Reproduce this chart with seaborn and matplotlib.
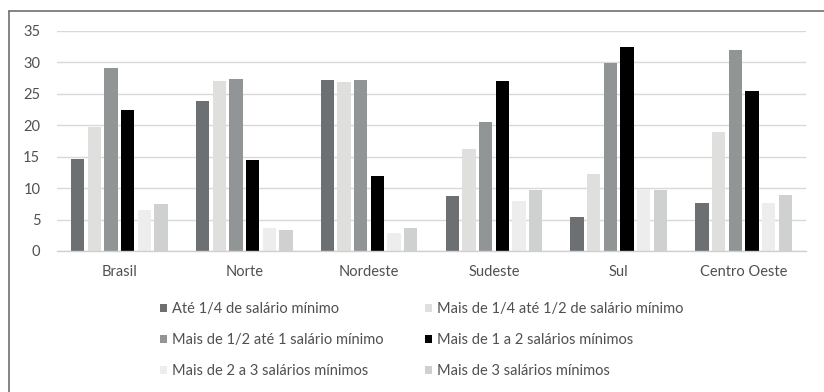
import matplotlib
matplotlib.use("Agg")
import matplotlib.pyplot as plt
import seaborn as sns
import pandas as pd
from matplotlib.patches import Patch
from matplotlib.lines import Line2D

regions = ["Brasil", "Norte", "Nordeste", "Sudeste", "Sul", "Centro Oeste"]
series = [
    "Até 1/4 de salário mínimo",
    "Mais de 1/4 até 1/2 de salário mínimo",
    "Mais de 1/2 até 1 salário mínimo",
    "Mais de 1 a 2 salários mínimos",
    "Mais de 2 a 3 salários mínimos",
    "Mais de 3 salários mínimos",
]
ate_1_4 = [14.6, 23.9, 27.2, 8.8, 5.4, 7.6]
de_1_4_a_1_2 = [19.8, 27.1, 26.9, 16.3, 12.3, 19.0]
de_1_2_a_1 = [29.1, 27.4, 27.2, 20.6, 29.9, 31.9]
de_1_a_2 = [22.5, 14.4, 11.9, 27.1, 32.5, 25.4]
de_2_a_3 = [6.5, 3.6, 2.9, 7.9, 9.9, 7.6]
mais_3 = [7.4, 3.3, 3.6, 9.7, 9.7, 8.9]
colors = ["#6d7073", "#dfdfde", "#919595", "#000000", "#ededed", "#cfd0d0"]
yticks = [0, 5, 10, 15, 20, 25, 30, 35]

values = [ate_1_4, de_1_4_a_1_2, de_1_2_a_1, de_1_a_2, de_2_a_3, mais_3]
rows = []
for s, vals in zip(series, values):
    for r, v in zip(regions, vals):
        rows.append({"Região": r, "Faixa": s, "Valor": v})
df = pd.DataFrame(rows)

sns.set_style("white")
plt.rcParams["font.family"] = ["Lato", "DejaVu Sans"]
text_color = "#505050"

fig = plt.figure(figsize=(8.24, 3.92), dpi=100)
ax = fig.add_axes([57 / 824, 1 - 251 / 392, (806 - 57) / 824, 220 / 392])

sns.barplot(data=df, x="Região", y="Valor", hue="Faixa", order=regions,
            hue_order=series, palette=colors, width=0.8, gap=0.2,
            saturation=1, ax=ax, legend=False, linewidth=0)

ax.set_ylim(0, 35)
ax.set_yticks(yticks)
ax.set_xlim(-0.5, len(regions) - 0.5)
ax.yaxis.grid(True, color="#d9d9d9", linewidth=1.0)
ax.set_axisbelow(True)
for side in ["top", "right", "left"]:
    ax.spines[side].set_visible(False)
ax.spines["bottom"].set_color("#d0d0d0")
ax.spines["bottom"].set_linewidth(1.0)
ax.tick_params(axis="both", length=0, labelsize=10.5, colors=text_color)
ax.tick_params(axis="x", pad=10)
ax.tick_params(axis="y", pad=12)
ax.set_xlabel("")
ax.set_ylabel("")

handles = [Patch(facecolor=c, edgecolor="none") for c in colors]
order = [0, 2, 4, 1, 3, 5]
leg = fig.legend([handles[i] for i in order], [series[i] for i in order],
                 ncol=2, loc="upper left", bbox_to_anchor=(160 / 824, 1 - 302.5 / 392),
                 frameon=False, fontsize=10.5, handlelength=0.5, handleheight=0.5,
                 handletextpad=0.35, columnspacing=2.8, labelspacing=1.15,
                 borderaxespad=0, borderpad=0)
for t in leg.get_texts():
    t.set_color(text_color)

# outer chart border (left and top edges visible)
fig.add_artist(Line2D([8.5 / 824, 8.5 / 824], [0, 1 - 10.5 / 392],
                      transform=fig.transFigure, color="#707070", linewidth=1.2))
fig.add_artist(Line2D([8.5 / 824, 1.0], [1 - 10.5 / 392, 1 - 10.5 / 392],
                      transform=fig.transFigure, color="#707070", linewidth=1.2))

fig.savefig("out.png", dpi=100)
